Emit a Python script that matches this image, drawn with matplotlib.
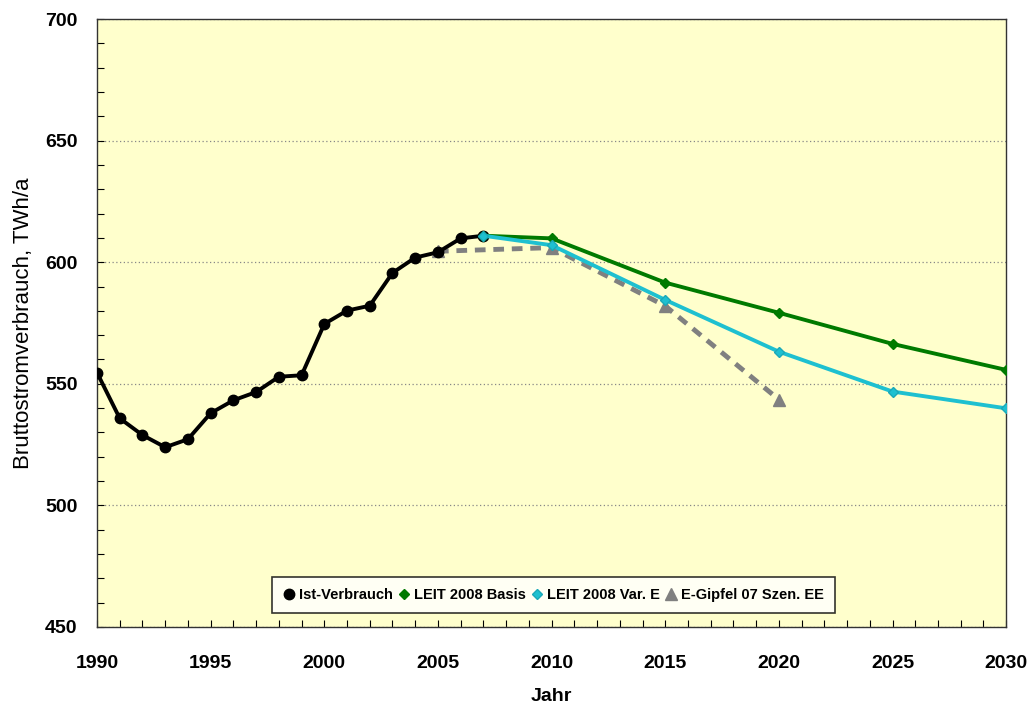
import matplotlib
matplotlib.use("Agg")
import matplotlib.pyplot as plt
from matplotlib.ticker import MultipleLocator

plt.rcParams['font.family'] = ['Liberation Sans', 'DejaVu Sans']

ist_years = [1990, 1991, 1992, 1993, 1994, 1995, 1996, 1997, 1998, 1999,
             2000, 2001, 2002, 2003, 2004, 2005, 2006, 2007]
ist_values = [554.6, 535.8, 528.9, 523.9, 527.2, 537.9, 543.2, 546.6, 552.9, 553.5,
              574.6, 580.1, 582.1, 595.6, 601.9, 604.1, 609.8, 610.9]

leit_years = [2007, 2010, 2015, 2020, 2025, 2030]
basis_values = [610.9, 609.8, 591.6, 579.2, 566.4, 555.7]
varE_values = [610.9, 607.0, 584.5, 563.2, 546.8, 539.9]

gipfel_years = [2005, 2010, 2015, 2020]
gipfel_values = [604.5, 606.0, 582.0, 543.5]

fig = plt.figure(figsize=(10.32, 7.06), dpi=100)
ax = fig.add_axes([0.094, 0.112, 0.881, 0.861])
ax.set_facecolor('#FFFFCC')

ax.plot(gipfel_years, gipfel_values, color='#808080', lw=3.5, ls=(0, (2.2, 1.6)),
        marker='^', ms=9, mfc='#808080', mec='#808080', zorder=3,
        label='E-Gipfel 07 Szen. EE')
ax.plot(ist_years, ist_values, color='black', lw=2.8, marker='o', ms=7.5,
        zorder=4, label='Ist-Verbrauch')
ax.plot(leit_years, basis_values, color='#007A00', lw=2.8, marker='D', ms=5,
        zorder=5, label='LEIT 2008 Basis')
ax.plot(leit_years, varE_values, color='#1EC0D0', lw=2.8, marker='D', ms=5,
        mec='#1AA8B8', zorder=6, label='LEIT 2008 Var. E')

ax.set_xlim(1990, 2030)
ax.set_ylim(450, 700)
ax.xaxis.set_major_locator(MultipleLocator(5))
ax.xaxis.set_minor_locator(MultipleLocator(1))
ax.yaxis.set_major_locator(MultipleLocator(50))
ax.yaxis.set_minor_locator(MultipleLocator(10))
ax.tick_params(axis='both', which='both', direction='in', length=5, width=0.8)
ax.tick_params(axis='x', which='major', pad=20, labelsize=14)
ax.tick_params(axis='y', which='major', pad=14, labelsize=14)
ax.tick_params(top=False, right=False)
for lbl in ax.get_xticklabels() + ax.get_yticklabels():
    lbl.set_fontweight('bold')

ax.yaxis.grid(True, which='major', ls=(0, (1, 2)), color='#888888', lw=0.9)
ax.set_axisbelow(True)
for s in ax.spines.values():
    s.set_linewidth(1.0)
    s.set_color('#333333')

ax.set_xlabel('Jahr', fontsize=14, fontweight='bold', labelpad=12)
ax.set_ylabel('Bruttostromverbrauch, TWh/a', fontsize=16, labelpad=8)

handles, labels = ax.get_legend_handles_labels()
order = [1, 2, 3, 0]
leg = ax.legend([handles[i] for i in order], [labels[i] for i in order],
                loc='lower center', bbox_to_anchor=(0.502, 0.011), ncol=4,
                frameon=True, fancybox=False, edgecolor='black',
                prop={'weight': 'bold', 'size': 10.5}, handlelength=0.8,
                handletextpad=0.3, columnspacing=0.35, borderpad=0.75)
leg.get_frame().set_linewidth(1.2)
for h in leg.legend_handles:
    h.set_linestyle('None')

fig.savefig('out.png', dpi=100)
